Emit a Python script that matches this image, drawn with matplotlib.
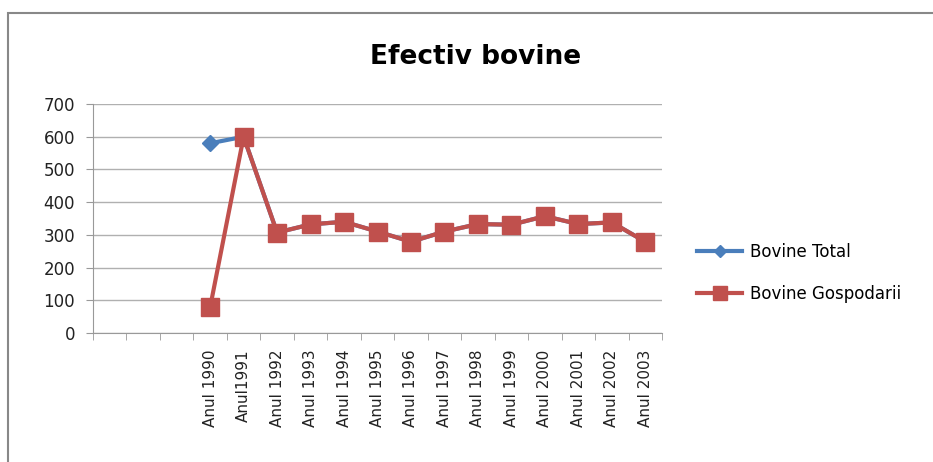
import numpy as np
import matplotlib
matplotlib.use("Agg")
import matplotlib.pyplot as plt
from matplotlib.patches import Rectangle

# date
ani = ["", "", "", "Anul 1990", "Anul1991", "Anul 1992", "Anul 1993", "Anul 1994",
       "Anul 1995", "Anul 1996", "Anul 1997", "Anul 1998", "Anul 1999",
       "Anul 2000", "Anul 2001", "Anul 2002", "Anul 2003"]
bovine_total = [None, None, None, 580, 600, 307, 332, 340, 310, 279, 310,
                333, 331, 357, 333, 338, 279]
bovine_gospodarii = [None, None, None, 79, 600, 307, 332, 340, 310, 279, 310,
                     333, 331, 357, 333, 338, 279]
y_ticks = [0, 100, 200, 300, 400, 500, 600, 700]

BLUE = "#4a7ebb"
RED = "#c0504d"

fig = plt.figure(figsize=(9.33, 4.62), dpi=100)
ax = fig.add_axes([93 / 933, 1 - 333 / 462, (662 - 93) / 933, (333 - 104) / 462])

# chenar chart (colt stanga sus)
fig.patches.append(Rectangle((8 / 933, -0.1), 1.2, 1 - 13 / 462 + 0.1,
                             transform=fig.transFigure, fill=False,
                             edgecolor="#888888", lw=1.5))

x = np.arange(len(ani))
tot = np.array([np.nan if v is None else v for v in bovine_total], dtype=float)
gos = np.array([np.nan if v is None else v for v in bovine_gospodarii], dtype=float)

ax.plot(x, tot, color=BLUE, lw=3, marker="D", markersize=8,
        label="Bovine Total", zorder=3)
ax.plot(x, gos, color=RED, lw=3, marker="s", markersize=13,
        label="Bovine Gospodarii", zorder=4)

ax.set_xlim(-0.5, len(ani) - 0.5)
ax.set_ylim(0, 700)
ax.set_yticks(y_ticks)
ax.set_xticks(x)
ax.set_xticklabels(ani, rotation=90, fontsize=11, color="#222222")
ax.set_xticks(np.arange(-0.5, len(ani)), minor=True)
ax.tick_params(axis="x", which="major", length=0, pad=12)
ax.tick_params(axis="x", which="minor", length=5, color="#999999", direction="out")
ax.tick_params(axis="y", length=5, color="#999999", labelsize=12,
               labelcolor="#222222", pad=8)

ax.grid(axis="y", color="#b0b0b0", lw=1)
ax.set_axisbelow(True)
for s in ["top", "right"]:
    ax.spines[s].set_visible(False)
ax.spines["left"].set_color("#999999")
ax.spines["bottom"].set_color("#999999")

fig.text(476 / 933, 1 - 57 / 462, "Efectiv bovine", ha="center", va="center",
         fontsize=19, fontweight="bold")

fig.legend(loc="center left", bbox_to_anchor=(697 / 933, 1 - 273 / 462),
           frameon=False, fontsize=12, handlelength=2.7, labelspacing=1.4,
           handletextpad=0.45, borderpad=0, borderaxespad=0, markerscale=0.8)

plt.savefig("out.png", dpi=100)
